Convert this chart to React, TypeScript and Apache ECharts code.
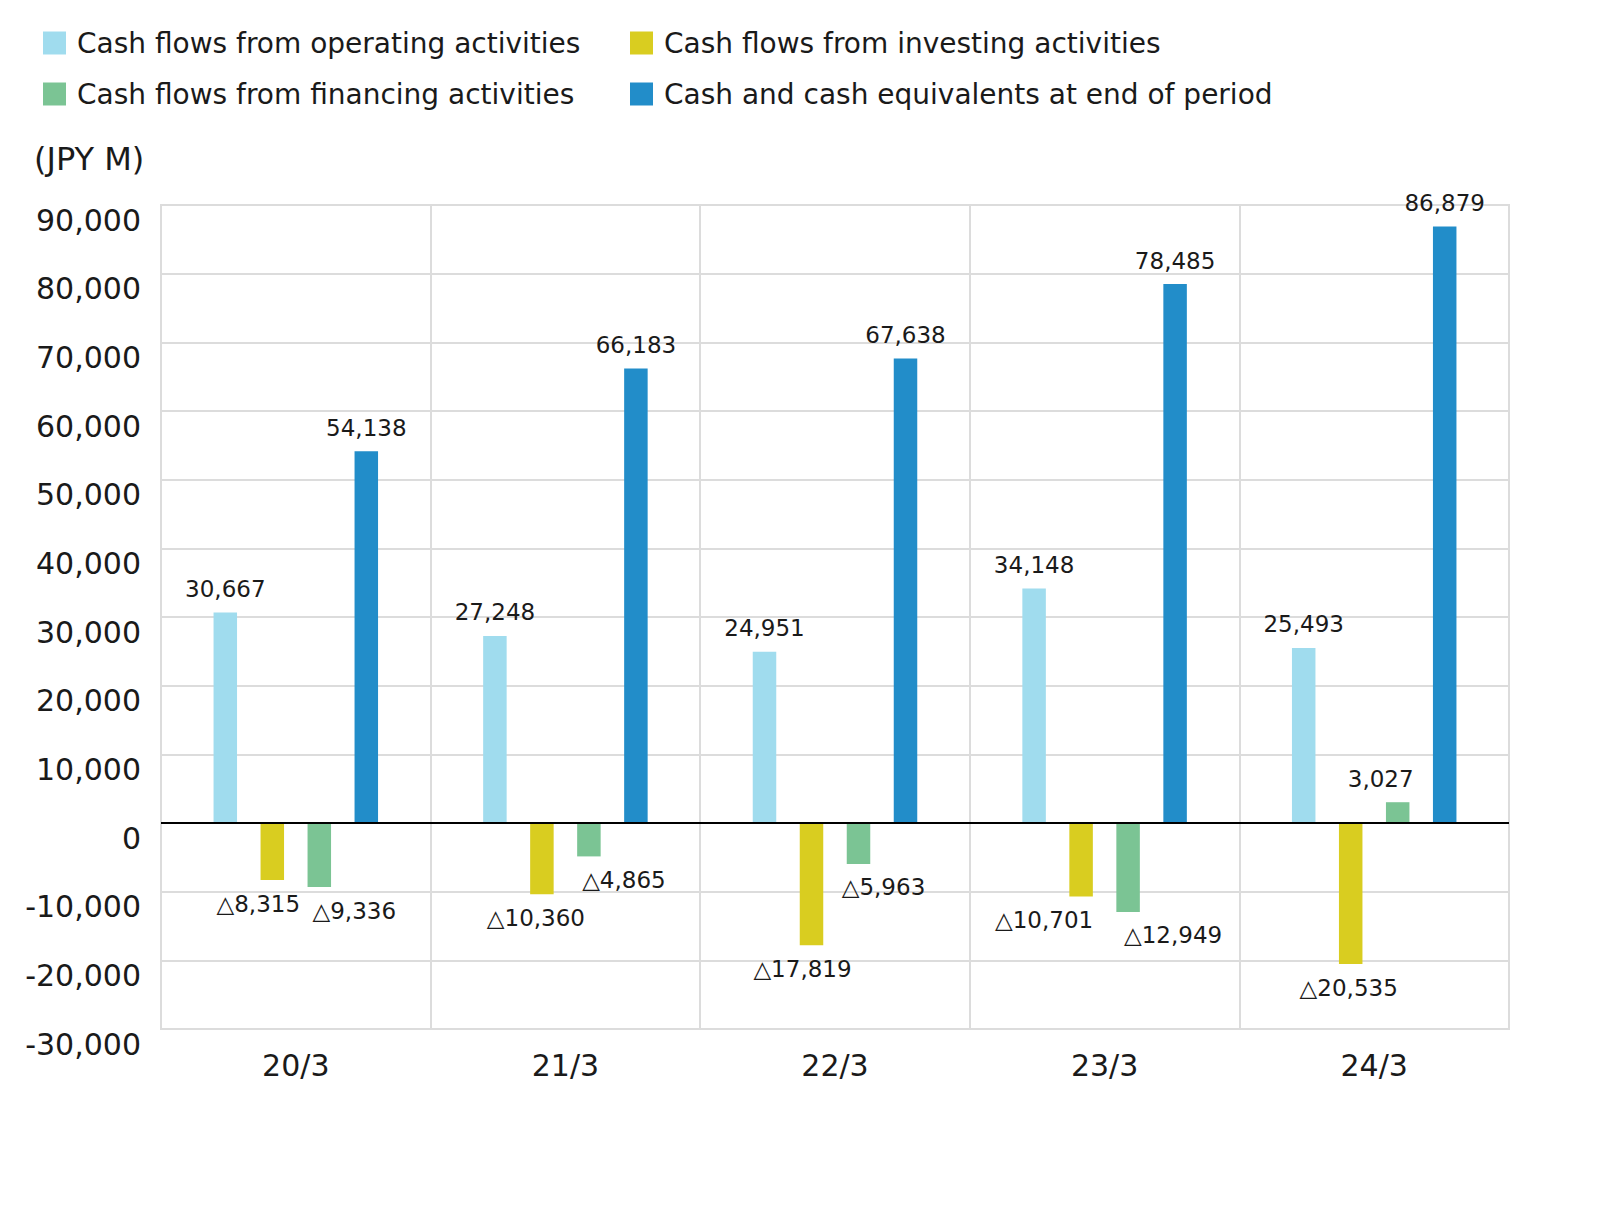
import React, { useEffect, useRef } from "react";
import * as echarts from "echarts";

const categories = ["20/3", "21/3", "22/3", "23/3", "24/3"];
const operating = [30667, 27248, 24951, 34148, 25493];
const investing = [-8315, -10360, -17819, -10701, -20535];
const financing = [-9336, -4865, -5963, -12949, 3027];
const cashEnd = [54138, 66183, 67638, 78485, 86879];

const seriesNames = [
  "Cash flows from operating activities",
  "Cash flows from investing activities",
  "Cash flows from financing activities",
  "Cash and cash equivalents at end of period",
];
const colors = ["#a0dcee", "#d9cd20", "#7bc494", "#228dc9"];

// horizontal nudges of a few value labels, as in the reference
const investingLabelShift = [-14, -6, -9, -37, -2];
const financingLabelShift = [35, 35, 25, 45, -17];

const FONT = "DejaVu Sans";

function fmt(v: number): string {
  const s = Math.abs(v).toLocaleString("en-US");
  return v < 0 ? "\u25B3" + s : s;
}

function makeData(values: number[], shifts?: number[]) {
  return values.map((v, i) => ({
    value: v,
    label: {
      position: v < 0 ? "bottom" : "top",
      offset: [shifts ? shifts[i] : 0, 0],
    },
  }));
}

export default function App() {
  const ref = useRef<HTMLDivElement>(null);
  useEffect(() => {
    if (!ref.current) return;
    const chart = echarts.init(ref.current, undefined, { renderer: "svg" });
    const labelStyle = {
      show: true,
      distance: 12,
      fontSize: 23,
      fontFamily: FONT,
      color: "#1a1a1a",
      formatter: (p: any) => fmt(p.value),
    };
    const seriesData = [
      makeData(operating),
      makeData(investing, investingLabelShift),
      makeData(financing, financingLabelShift),
      makeData(cashEnd),
    ];
    const legendText = {
      fontSize: 28,
      fontFamily: FONT,
      color: "#1a1a1a",
      lineHeight: 27,
      padding: [0, 0, 0, 6],
    };
    const legendBase = {
      orient: "vertical",
      top: 29,
      padding: 0,
      icon: "rect",
      itemWidth: 23,
      itemHeight: 23,
      itemGap: 23,
      selectedMode: false,
      textStyle: legendText,
    };
    chart.setOption({
      animation: false,
      backgroundColor: "#ffffff",
      color: colors,
      legend: [
        { ...legendBase, data: [seriesNames[0], seriesNames[2]], left: 43 },
        { ...legendBase, data: [seriesNames[1], seriesNames[3]], left: 630 },
      ],
      graphic: [
        {
          type: "text",
          left: 34,
          top: 143,
          style: {
            text: "(JPY M)",
            fontSize: 32,
            fontFamily: FONT,
            fill: "#1a1a1a",
          },
        },
      ],
      grid: {
        left: 161,
        right: 92,
        top: 205,
        bottom: 178,
        show: true,
        borderColor: "#dcdcdc",
        borderWidth: 2,
        containLabel: false,
      },
      xAxis: {
        type: "category",
        data: categories,
        axisLine: { show: false, onZero: false },
        axisTick: { show: false },
        splitLine: {
          show: true,
          interval: 0,
          lineStyle: { color: "#dcdcdc", width: 2 },
        },
        axisLabel: {
          fontSize: 30,
          fontFamily: FONT,
          color: "#1a1a1a",
          margin: 21,
        },
      },
      yAxis: {
        type: "value",
        min: -30000,
        max: 90000,
        interval: 10000,
        axisLine: { show: false },
        axisTick: { show: false },
        splitLine: { lineStyle: { color: "#dcdcdc", width: 2 } },
        axisLabel: {
          fontSize: 30,
          fontFamily: FONT,
          color: "#1a1a1a",
          margin: 20,
          verticalAlign: "top",
          formatter: (v: number) => v.toLocaleString("en-US"),
        },
      },
      series: seriesNames.map((name, i) => ({
        name,
        type: "bar",
        barWidth: 23.5,
        barGap: "100%",
        data: seriesData[i],
        label: labelStyle,
        itemStyle: { color: colors[i] },
        ...(i === 0
          ? {
              markLine: {
                silent: true,
                symbol: "none",
                label: { show: false },
                lineStyle: { color: "#000000", width: 2, type: "solid" },
                data: [{ yAxis: 0 }],
                z: 10,
              },
            }
          : {}),
      })),
    });
    return () => chart.dispose();
  }, []);
  return (
    <div
      ref={ref}
      style={{ position: "fixed", left: 0, top: 0, width: 1601, height: 1207 }}
    />
  );
}
